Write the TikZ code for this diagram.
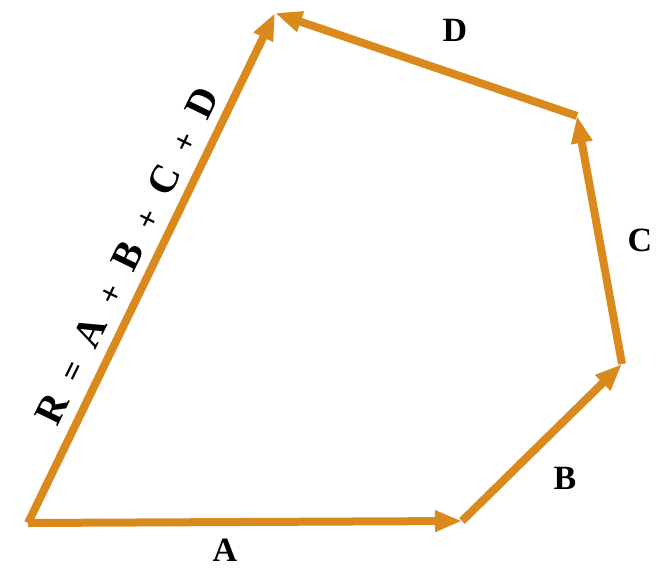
\documentclass[tikz,border=0pt]{standalone}
\usepackage{fontspec}
\setmainfont{Liberation Serif}
\usetikzlibrary{arrows.meta,calc}
\definecolor{vec}{RGB}{218,138,28}
\newcommand{\gp}{\hspace{19pt}}
\newcommand{\opr}[1]{{\fontsize{33}{37}\selectfont #1}}
\begin{document}
\begin{tikzpicture}[x=1pt,y=1pt,
  vecline/.style={draw=vec, line width=8pt, -{Triangle[length=27pt,width=20pt]}},
  lbl/.style={font=\fontsize{34}{40}\selectfont\bfseries, inner sep=0pt},
  rlbl/.style={font=\fontsize{40}{46}\selectfont\bfseries, inner sep=0pt}]
\useasboundingbox (0,0) rectangle (660,569);
\coordinate (O) at (28,46);
\coordinate (a) at (462,48);
\coordinate (b) at (622,205);
\coordinate (c) at (577,453);
\coordinate (d) at (275,556);
\draw[vecline] (O) -- (a);
\draw[vecline] (a) -- (b);
\draw[vecline] (b) -- (c);
\draw[vecline] (c) -- (d);
\draw[vecline] (O) -- (d);
\node[lbl] (la) at (225,19) {A};
\node[lbl] (lb) at (565,91) {B};
\node[lbl] (lc) at (640,329) {C};
\node[lbl] (ld) at (455,539) {D};
\coordinate (m) at ($(O)!0.5!(d)$);
\node[rlbl, rotate=64] (lr) at ($(m)!27pt!90:(d)$) {R\gp\opr{=}\gp A\gp\opr{+}\gp B\gp\opr{+}\gp C\gp\opr{+}\gp D};
\end{tikzpicture}
\end{document}
